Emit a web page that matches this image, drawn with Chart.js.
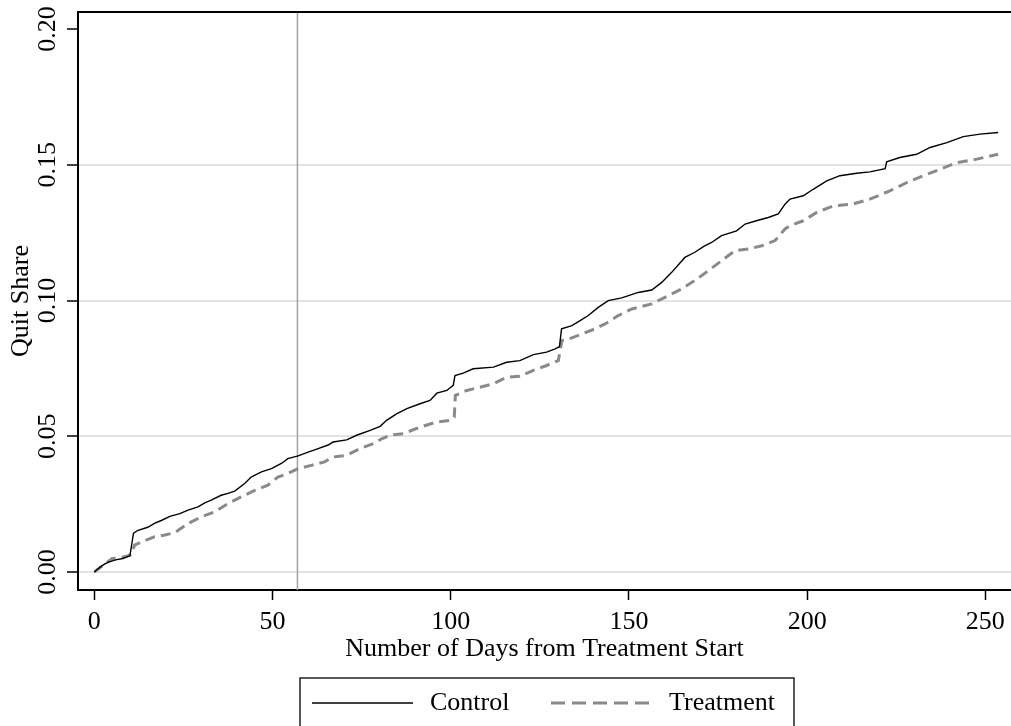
<!DOCTYPE html>
<html><head><meta charset="utf-8">
<script src="https://cdn.jsdelivr.net/npm/chart.js@4.4.1/dist/chart.umd.min.js"></script>
<style>html,body{margin:0;padding:0;background:#fff;overflow:hidden}canvas{display:block}</style>
</head><body>
<canvas id="c" width="1011" height="726"></canvas>
<script>
const controlDays = [0,1,2,3,4,6,8,10,11,12.3,15,17,18.8,21.2,24,26.3,29.1,31,32.8,35.6,37.5,39.4,42.2,44,46.9,49.7,52.5,54.3,57.2,60,62.8,65.6,67,70.8,73.6,77.4,80.2,82,84.8,87.7,91.4,94.2,96.1,98.9,100.7,101.2,103.5,106.3,112,115.7,119.4,123.2,126.9,129.3,130.5,131.1,134,136.3,138.6,141.4,144.2,148,152.6,156.4,159.2,162,165.7,168.5,171,173.2,176,180.2,182.6,186,189.1,191.9,193.8,195.2,198.9,201.7,205.5,209.2,213.9,217.6,221.9,222.3,226,230.7,234.5,239.2,243.8,248.5,253.6];
const controlShare = [0,0.0012,0.0022,0.003,0.0037,0.0045,0.005,0.006,0.0143,0.0154,0.0165,0.018,0.019,0.0205,0.0215,0.0228,0.024,0.0255,0.0265,0.0283,0.029,0.0298,0.0326,0.035,0.0369,0.0381,0.04,0.0418,0.0428,0.0442,0.0455,0.0468,0.0479,0.0487,0.0504,0.0522,0.0537,0.0559,0.0583,0.0602,0.062,0.0632,0.0659,0.0669,0.0688,0.0724,0.0733,0.0749,0.0755,0.0773,0.0779,0.0801,0.081,0.0822,0.083,0.0896,0.0908,0.0926,0.0945,0.0975,0.1,0.101,0.103,0.1039,0.1067,0.1104,0.1159,0.1178,0.12,0.1214,0.1239,0.1257,0.1282,0.1295,0.1306,0.1319,0.1355,0.1374,0.1386,0.141,0.1441,0.146,0.1469,0.1474,0.1486,0.1511,0.1527,0.1539,0.1564,0.1582,0.1604,0.1613,0.1619];
const treatmentDays = [0,1,2,3,4,5,7,9,10.4,11.3,14,16.9,19.5,22.6,26.3,30,33.8,37.5,41.2,45,48.7,51.5,54.3,57.2,60.9,64.6,67,70.8,74.5,78.3,80.5,83,86.7,91.4,96.1,99.8,101,101.3,104.5,108.2,112,115.7,119.4,123.2,126.9,130.2,131.2,133,136.8,140.5,143.3,147,150.8,156.4,160.1,164.8,168.5,172.3,176,179.8,183.5,187.3,191,193.8,195.2,198.9,202.7,207.4,213,217.6,223.2,228,232.6,237.3,242,247.6,253.6];
const treatmentShare = [0,0.001,0.002,0.003,0.004,0.005,0.0052,0.0058,0.0065,0.0099,0.0115,0.013,0.0136,0.0145,0.0179,0.0203,0.0222,0.0252,0.0277,0.0301,0.032,0.035,0.0363,0.0381,0.0393,0.0406,0.0424,0.043,0.0455,0.0473,0.049,0.0504,0.051,0.0534,0.0553,0.0559,0.0571,0.0651,0.0669,0.0681,0.0694,0.0718,0.0721,0.0743,0.0761,0.0779,0.0853,0.0858,0.0877,0.0896,0.0914,0.0945,0.0969,0.0988,0.1012,0.1043,0.1074,0.111,0.1147,0.1184,0.119,0.1202,0.1221,0.1264,0.1276,0.1294,0.1325,0.1349,0.1356,0.1374,0.1404,0.1435,0.146,0.1484,0.1508,0.1521,0.1539];
const xTickValues = [0,50,100,150,200,250];
const xTickLabels = ['0','50','100','150','200','250'];
const yTickValues = [0,0.05,0.10,0.15,0.20];
const yTickLabels = ['0.00','0.05','0.10','0.15','0.20'];
const treatmentStartMarkerDay = 57;
const seriesLabels = ['Control','Treatment'];
const xAxisTitle = 'Number of Days from Treatment Start';
const yAxisTitle = 'Quit Share';

const FONT = "'Liberation Serif', 'Times New Roman', serif";
const legendDash = [[], [14, 7]];

const toPoints = (xs, ys) => xs.map((d, i) => ({x: d, y: ys[i]}));

const framePlugin = {
  id: 'frame',
  beforeDatasetsDraw(chart) {
    const {ctx, chartArea: a, scales: {x}} = chart;
    const px = x.getPixelForValue(treatmentStartMarkerDay);
    ctx.save();
    ctx.strokeStyle = '#a3a3a3';
    ctx.lineWidth = 1.5;
    ctx.beginPath(); ctx.moveTo(px, a.top); ctx.lineTo(px, a.bottom); ctx.stroke();
    ctx.restore();
  },
  afterDraw(chart) {
    const {ctx, chartArea: a} = chart;
    ctx.save();
    ctx.strokeStyle = '#000';
    ctx.lineWidth = 2;
    ctx.beginPath(); ctx.moveTo(a.left - 1, a.top); ctx.lineTo(a.right, a.top); ctx.stroke();
    const boxL = 300, boxT = 678, boxR = 794, boxB = 740;
    ctx.strokeStyle = '#222';
    ctx.lineWidth = 1.5;
    ctx.strokeRect(boxL, boxT, boxR - boxL, boxB - boxT);
    const itemX = [312, 551];
    const cy = 703;
    ctx.font = '26px ' + FONT;
    ctx.fillStyle = '#000';
    ctx.textBaseline = 'middle';
    ctx.textAlign = 'left';
    chart.data.datasets.forEach((ds, i) => {
      ctx.save();
      ctx.strokeStyle = ds.borderColor;
      ctx.lineWidth = i === 0 ? 1.5 : 3;
      ctx.setLineDash(legendDash[i]);
      ctx.beginPath(); ctx.moveTo(itemX[i], cy); ctx.lineTo(itemX[i] + 101, cy); ctx.stroke();
      ctx.restore();
      ctx.fillText(ds.label, itemX[i] + 118, cy);
    });
    ctx.restore();
  }
};

new Chart(document.getElementById('c'), {
  type: 'line',
  data: {
    datasets: [
      {label: seriesLabels[0], data: toPoints(controlDays, controlShare), borderColor: '#000', borderWidth: 1.4, tension: 0, pointRadius: 0, fill: false},
      {label: seriesLabels[1], data: toPoints(treatmentDays, treatmentShare), borderColor: '#8a8a8a', borderWidth: 3, borderDash: [10, 6], tension: 0, pointRadius: 0, fill: false}
    ]
  },
  options: {
    responsive: false,
    animation: false,
    devicePixelRatio: 1,
    layout: {padding: {top: 12, left: 0, right: 0, bottom: 56}},
    plugins: {legend: {display: false}, tooltip: {enabled: false}},
    scales: {
      x: {
        type: 'linear', min: -4.57, max: 257.2,
        afterBuildTicks: s => { s.ticks = xTickValues.map(v => ({value: v})); },
        afterFit: s => { s.height = 80; s.paddingLeft = 0; s.paddingRight = 0; },
        grid: {drawOnChartArea: false, drawTicks: true, tickLength: 10, tickColor: '#000', tickWidth: 1.5},
        border: {display: true, color: '#000', width: 2},
        ticks: {color: '#000', font: {family: FONT, size: 26, lineHeight: 1}, padding: 9, maxRotation: 0, autoSkip: false,
          callback: (v, i) => xTickLabels[i]},
        title: {display: true, text: xAxisTitle, color: '#000', font: {family: FONT, size: 26}, padding: {top: 0, bottom: 5}}
      },
      y: {
        type: 'linear', min: -0.0066, max: 0.2063,
        afterBuildTicks: s => { s.ticks = yTickValues.map(v => ({value: v})); },
        afterFit: s => { s.width = 78; s.paddingTop = 0; s.paddingBottom = 0; },
        grid: {drawOnChartArea: true, drawTicks: true, tickLength: 11, tickColor: '#000', tickWidth: 1.5,
          color: c => (c.tick && c.tick.value >= 0.2) ? 'rgba(0,0,0,0)' : '#e3e3e3', lineWidth: 2},
        border: {display: true, color: '#000', width: 2},
        ticks: {color: '#000', font: {family: FONT, size: 26}, padding: -4, minRotation: 90, maxRotation: 90, crossAlign: 'center', autoSkip: false,
          callback: (v, i) => yTickLabels[i]},
        title: {display: true, text: yAxisTitle, color: '#000', font: {family: FONT, size: 26}, padding: {top: 6, bottom: 0}}
      }
    }
  },
  plugins: [framePlugin]
});
</script>
</body></html>
